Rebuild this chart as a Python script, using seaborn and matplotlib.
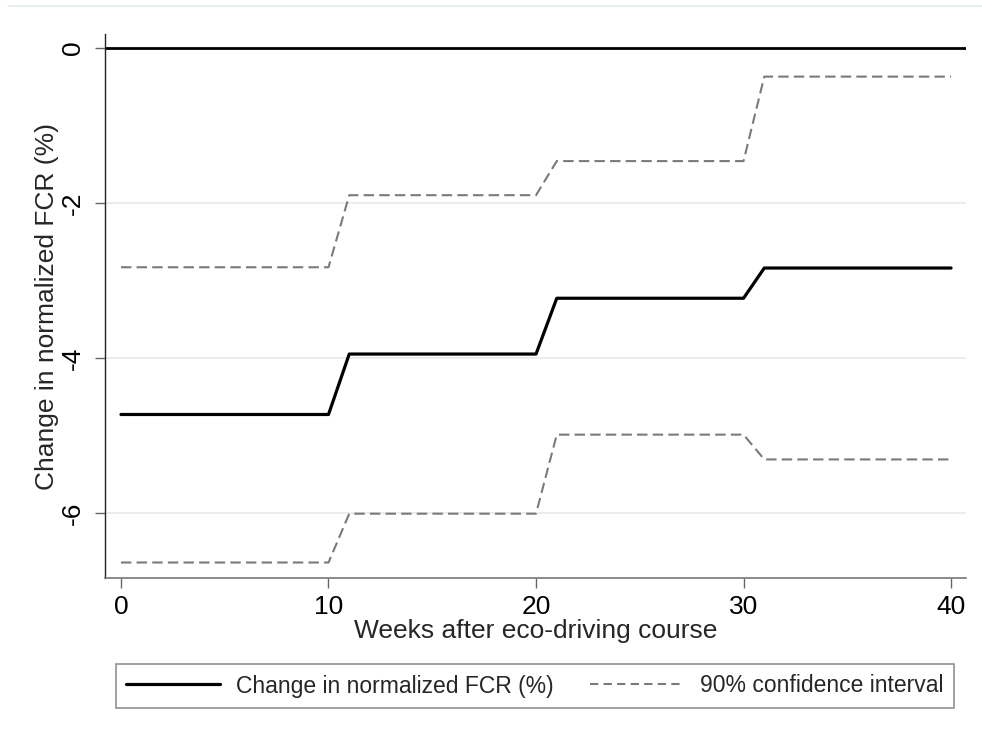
import matplotlib
matplotlib.use("Agg")
import matplotlib.pyplot as plt
from matplotlib.lines import Line2D
import seaborn as sns
import pandas as pd

# Step-wise effect estimates by week after the course
weeks = [0, 10, 11, 20, 21, 30, 31, 40]
fcr_change = [-4.73, -4.73, -3.95, -3.95, -3.23, -3.23, -2.84, -2.84]
ci_upper = [-2.83, -2.83, -1.90, -1.90, -1.46, -1.46, -0.37, -0.37]
ci_lower = [-6.64, -6.64, -6.01, -6.01, -4.99, -4.99, -5.31, -5.31]

x_ticks = [0, 10, 20, 30, 40]
y_ticks = [0, -2, -4, -6]
x_label = "Weeks after eco-driving course"
y_label = "Change in normalized FCR (%)"
legend_labels = ["Change in normalized FCR (%)", "90% confidence interval"]

sns.set_theme(style="white")
plt.rcParams["font.family"] = ["Liberation Sans", "DejaVu Sans"]

df = pd.DataFrame({"week": weeks, "est": fcr_change, "hi": ci_upper, "lo": ci_lower})

fig = plt.figure(figsize=(9.82, 7.42), dpi=100)
ax = fig.add_axes([105 / 982, 1 - 578 / 742, (966 - 105) / 982, (578 - 34) / 742])

grid_c = "#e9e9e9"
for yv in y_ticks[1:]:
    ax.axhline(yv, color=grid_c, lw=1.2, zorder=0)
ax.axhline(0, color="black", lw=2.0, zorder=2)

dash_c = "#7a7a7a"
ci_style = (0, (5, 2.5))
sns.lineplot(data=df, x="week", y="hi", ax=ax, color=dash_c, lw=1.5,
             linestyle=ci_style, zorder=3)
sns.lineplot(data=df, x="week", y="lo", ax=ax, color=dash_c, lw=1.5,
             linestyle=ci_style, zorder=3)
sns.lineplot(data=df, x="week", y="est", ax=ax, color="black", lw=2.3, zorder=4)

ax.set_xlim(-0.77, 40.72)
ax.set_ylim(-6.84, 0.18)
ax.set_xticks(x_ticks)
ax.set_yticks(y_ticks)
ax.set_yticklabels([str(v) for v in y_ticks], rotation=90, va="center")

fs = 19
ax.tick_params(axis="both", direction="out", length=7.5, width=1.0,
               color="#666666", labelsize=fs, labelcolor="black",
               bottom=True, left=True)
ax.tick_params(axis="y", pad=7)
ax.tick_params(axis="x", pad=5)
ax.set_xlabel(x_label, fontsize=fs, labelpad=0)
ax.set_ylabel(y_label, fontsize=fs, labelpad=1)

for side in ["top", "right"]:
    ax.spines[side].set_visible(False)
ax.spines["left"].set_color("#222222")
ax.spines["left"].set_linewidth(1.0)
ax.spines["bottom"].set_color("#777777")
ax.spines["bottom"].set_linewidth(1.2)

handles = [
    Line2D([], [], color="black", lw=2.3),
    Line2D([], [], color=dash_c, lw=1.5, linestyle=(0, (4, 2.5))),
]
leg = fig.legend(handles, legend_labels, loc="center",
                 bbox_to_anchor=(116 / 982, 1 - 710 / 742, (954 - 116) / 982, 48 / 742),
                 mode="expand", ncol=2, fontsize=16.5, frameon=True, fancybox=False,
                 handlelength=4.1, handletextpad=0.7, columnspacing=1.5,
                 borderpad=0.45, borderaxespad=0)
leg.get_frame().set_edgecolor("#777777")
leg.get_frame().set_linewidth(1.2)

# thin rule at the top of the graph region
fig.add_artist(Line2D([8 / 982, 1.0], [1 - 6 / 742, 1 - 6 / 742], color="#e4ecee", lw=1.2))

fig.savefig("out.png", dpi=100)
